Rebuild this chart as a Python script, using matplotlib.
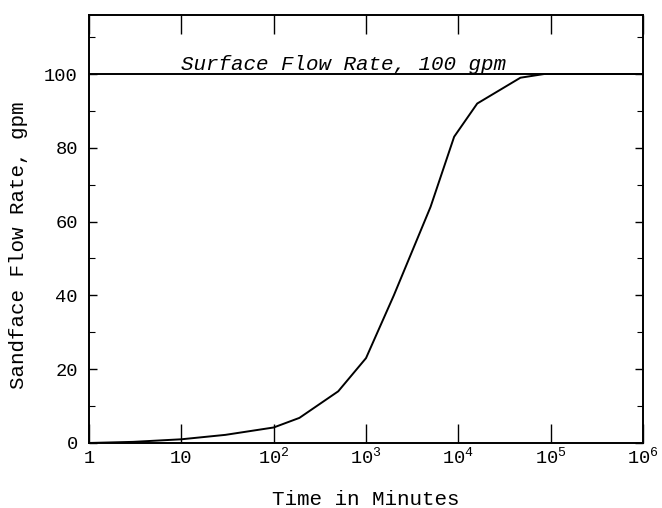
import matplotlib
matplotlib.use("Agg")
import matplotlib.pyplot as plt
from matplotlib.ticker import FixedLocator, MultipleLocator, NullLocator

plt.rcParams["font.family"] = ["Liberation Mono", "DejaVu Sans Mono"]
plt.rcParams["mathtext.fontset"] = "custom"
plt.rcParams["mathtext.rm"] = "Liberation Mono"
plt.rcParams["mathtext.it"] = "Liberation Mono:italic"

# Datos
tiempo_min = [1, 3, 10, 30, 100, 190, 500, 1000, 2000, 5000, 9000, 16000, 47000, 85000, 1e6]
caudal_gpm = [0, 0.3, 1, 2.2, 4.2, 6.8, 14, 23, 40, 64, 83, 92, 99, 100, 100]
caudal_superficie = 100

x_ticks = [1, 10, 1e2, 1e3, 1e4, 1e5, 1e6]
x_labels = ["1", "10", r"10$^2$", r"10$^3$", r"10$^4$", r"10$^5$", r"10$^6$"]
y_ticks = [0, 20, 40, 60, 80, 100]

fig = plt.figure(figsize=(6.62, 5.08), dpi=100)
ax = fig.add_axes([0.1344, 0.128, 0.837, 0.8425])

ax.plot(tiempo_min, caudal_gpm, color="black", linewidth=1.4)
ax.axhline(caudal_superficie, color="black", linewidth=1.4)
ax.text(10, caudal_superficie + 1.2, "Surface Flow Rate, 100 gpm",
        fontsize=15, style="italic", ha="left", va="baseline")

ax.set_xscale("log")
ax.set_xlim(1, 1e6)
ax.set_ylim(0, 116)

ax.xaxis.set_major_locator(FixedLocator(x_ticks))
ax.xaxis.set_minor_locator(NullLocator())
ax.set_xticklabels(x_labels, fontsize=13.5, va="baseline")
ax.set_yticks(y_ticks)
ax.set_yticklabels([str(v) for v in y_ticks], fontsize=13.5)
ax.yaxis.set_minor_locator(MultipleLocator(10))

ax.tick_params(axis="x", which="major", direction="in", length=14, width=1,
               top=True, pad=14.5)
ax.tick_params(axis="y", which="major", direction="in", length=6, width=1,
               right=True, pad=8)
ax.tick_params(axis="y", which="minor", direction="in", length=4, width=0.8,
               right=True)

for lado in ax.spines.values():
    lado.set_linewidth(1.4)

ax.set_xlabel("Time in Minutes", fontsize=15)
ax.set_ylabel("Sandface Flow Rate, gpm", fontsize=15)
ax.xaxis.set_label_coords(0.5, -0.131)
ax.yaxis.set_label_coords(-0.128, 0.463)
ax.xaxis.label.set_va("center")
ax.yaxis.label.set_va("center")

plt.savefig("out.png", dpi=100)
